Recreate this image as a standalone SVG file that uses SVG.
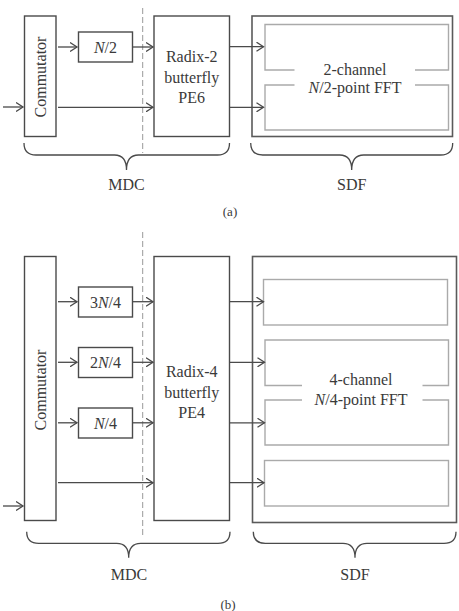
<svg xmlns="http://www.w3.org/2000/svg" width="459" height="611" viewBox="0 0 459 611">
<style>
.box{fill:#fff;stroke:#4a4a4a;stroke-width:1.4}
.outer{fill:#fff;stroke:#5a5a5a;stroke-width:1.6}
.inner{fill:none;stroke:#aaa;stroke-width:1.4}
.con{fill:none;stroke:#4a4a4a;stroke-width:1.3}
.dash{fill:none;stroke:#999;stroke-width:1;stroke-dasharray:6 3}
.brace{fill:none;stroke:#4a4a4a;stroke-width:1.3}
.t{font-family:"Liberation Serif","Times New Roman","DejaVu Serif",serif;font-size:16px;fill:#3a3a3a;text-anchor:middle}
.it{font-style:italic}
.cap{font-size:13px}
</style>
<defs>
<marker id="arr" markerUnits="userSpaceOnUse" markerWidth="10" markerHeight="10" refX="7.5" refY="5" orient="auto">
<path d="M0.5,0.5 L7.5,5 L0.5,9.5" fill="none" stroke="#4a4a4a" stroke-width="1.3"/>
</marker>
</defs>
<rect width="459" height="611" fill="#fff"/>
<g class="t">
<!-- (a) -->
<g id="a-commutator"><rect class="box" x="24.5" y="16" width="31.5" height="120.5"/><text transform="translate(45.5,77) rotate(-90)">Commutator</text></g>
<g id="a-n2"><rect class="box" x="78.5" y="32" width="54" height="30"/><text x="105.5" y="52.5"><tspan class="it">N</tspan>/2</text></g>
<g id="a-pe6"><rect class="box" x="154" y="16" width="75.5" height="120.5"/><text x="191.7" y="62">Radix-2</text><text x="191.7" y="82.5">butterfly</text><text x="191.7" y="103">PE6</text></g>
<g id="a-sdf"><rect class="outer" x="252" y="16" width="200.5" height="120.5"/>
<path class="inner" d="M294.5,70 H265 V24.5 H448.5 V70 H415"/>
<path class="inner" d="M294.5,85 H265 V130 H448.5 V85 H415"/>
<text x="355" y="74.5">2-channel</text><text x="355" y="92.5"><tspan class="it">N</tspan>/2-point FFT</text></g>
<g id="a-labels"><text x="126.5" y="190">MDC</text><text x="351.7" y="190">SDF</text><text class="cap" x="230" y="216">(a)</text></g>

<!-- (b) -->
<g id="b-commutator"><rect class="box" x="24.5" y="256.5" width="31.5" height="264"/><text transform="translate(45.5,390) rotate(-90)">Commutator</text></g>
<g id="b-3n4"><rect class="box" x="78.5" y="287" width="54" height="30"/><text x="105.5" y="307.5">3<tspan class="it">N</tspan>/4</text></g>
<g id="b-2n4"><rect class="box" x="78.5" y="347.5" width="54" height="30"/><text x="105.5" y="368">2<tspan class="it">N</tspan>/4</text></g>
<g id="b-n4"><rect class="box" x="78.5" y="408" width="54" height="30"/><text x="105.5" y="428.5"><tspan class="it">N</tspan>/4</text></g>
<g id="b-pe4"><rect class="box" x="154" y="256.5" width="75.5" height="264"/><text x="191.7" y="377">Radix-4</text><text x="191.7" y="397.5">butterfly</text><text x="191.7" y="418">PE4</text></g>
<g id="b-sdf"><rect class="outer" x="252.5" y="256.5" width="204" height="266"/>
<rect class="inner" x="263.5" y="279.5" width="184" height="45.5"/>
<path class="inner" d="M302,385.5 H265 V340 H448.5 V385.5 H422.5"/>
<path class="inner" d="M302,400 H265 V445 H448.5 V400 H422.5"/>
<rect class="inner" x="264.5" y="460.5" width="184" height="45.5"/>
<text x="361" y="385">4-channel</text><text x="361" y="405"><tspan class="it">N</tspan>/4-point FFT</text></g>
<g id="b-labels"><text x="129" y="580">MDC</text><text x="355" y="580">SDF</text><text class="cap" x="228" y="609">(b)</text></g>
</g>
<g id="connectors">
<line class="dash" x1="142.7" y1="8" x2="142.7" y2="153"/>
<line class="dash" x1="142.7" y1="232" x2="142.7" y2="537"/>
<line class="con" x1="3" y1="107" x2="23" y2="107" marker-end="url(#arr)"/>
<line class="con" x1="58" y1="47" x2="77" y2="47" marker-end="url(#arr)"/>
<line class="con" x1="132.5" y1="47" x2="153" y2="47" marker-end="url(#arr)"/>
<line class="con" x1="58" y1="107.3" x2="153" y2="107.3" marker-end="url(#arr)"/>
<line class="con" x1="229.5" y1="46.7" x2="263.5" y2="46.7" marker-end="url(#arr)"/>
<line class="con" x1="229.5" y1="107.3" x2="263.5" y2="107.3" marker-end="url(#arr)"/>
<path class="brace" d="M24,143 Q24,155 36,155 H114.5 Q126.5,155 126.5,170 Q126.5,155 138.5,155 H217.5 Q229.5,155 229.5,143"/>
<path class="brace" d="M250.7,143 Q250.7,155 262.7,155 H339.7 Q351.7,155 351.7,170 Q351.7,155 363.7,155 H440.7 Q452.7,155 452.7,143"/>

<line class="con" x1="3" y1="506" x2="23" y2="506" marker-end="url(#arr)"/>
<line class="con" x1="58" y1="301.7" x2="77" y2="301.7" marker-end="url(#arr)"/>
<line class="con" x1="132.5" y1="301.7" x2="153" y2="301.7" marker-end="url(#arr)"/>
<line class="con" x1="58" y1="362.3" x2="77" y2="362.3" marker-end="url(#arr)"/>
<line class="con" x1="132.5" y1="362.3" x2="153" y2="362.3" marker-end="url(#arr)"/>
<line class="con" x1="58" y1="422.8" x2="77" y2="422.8" marker-end="url(#arr)"/>
<line class="con" x1="132.5" y1="422.8" x2="153" y2="422.8" marker-end="url(#arr)"/>
<line class="con" x1="58" y1="482.7" x2="153" y2="482.7" marker-end="url(#arr)"/>
<line class="con" x1="229.5" y1="301.7" x2="263.5" y2="301.7" marker-end="url(#arr)"/>
<line class="con" x1="229.5" y1="362.3" x2="264.5" y2="362.3" marker-end="url(#arr)"/>
<line class="con" x1="229.5" y1="422.8" x2="264.5" y2="422.8" marker-end="url(#arr)"/>
<line class="con" x1="229.5" y1="482.7" x2="264" y2="482.7" marker-end="url(#arr)"/>
<path class="brace" d="M26.7,531.7 Q26.7,543.3 38.7,543.3 H116.7 Q128.7,543.3 128.7,557.7 Q128.7,543.3 140.7,543.3 H218 Q230,543.3 230,531.7"/>
<path class="brace" d="M253.3,531.7 Q253.3,543.3 265.3,543.3 H343 Q355,543.3 355,557.7 Q355,543.3 367,543.3 H444 Q456,543.3 456,531.7"/>
</g>
</svg>
